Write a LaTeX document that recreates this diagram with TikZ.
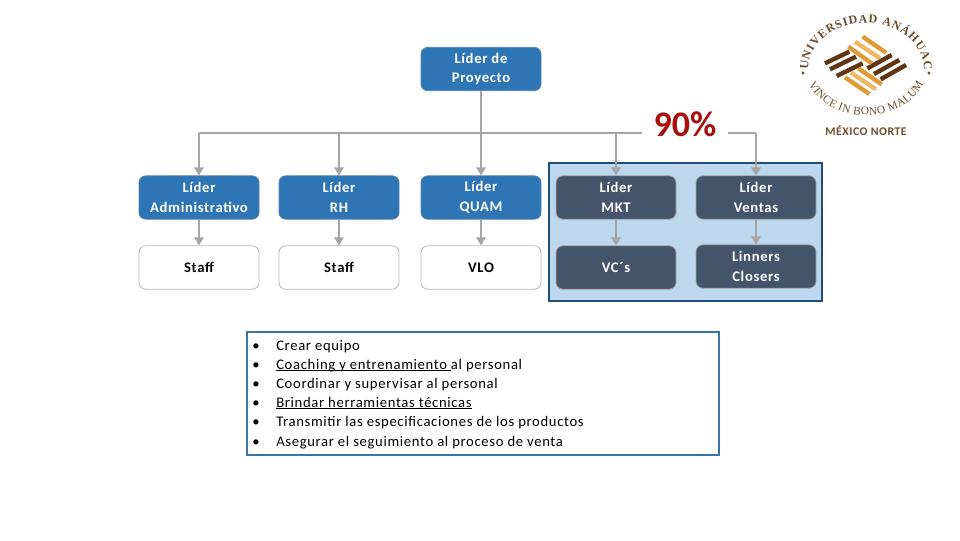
\documentclass[tikz,border=0pt]{standalone}
\usepackage{fontspec}
\setmainfont{Carlito}[LetterSpace=4.5]
\newfontfamily\logoserif{Liberation Serif}
\usetikzlibrary{arrows.meta,decorations.text}
\definecolor{blueb}{HTML}{2E75B6}
\definecolor{slate}{HTML}{44546A}
\definecolor{panelf}{HTML}{BDD7EE}
\definecolor{paneld}{HTML}{1F4E79}
\definecolor{listd}{HTML}{3A75A8}
\definecolor{linec}{HTML}{A5A5A5}
\definecolor{redp}{HTML}{A80F0F}
\definecolor{brownd}{HTML}{5F3512}
\definecolor{orangem}{HTML}{DF9C36}
\definecolor{orangel}{HTML}{EDB964}
\definecolor{brownt}{HTML}{6E4C2A}
\newcommand\ulx[1]{\setbox0\hbox{#1}\rlap{\rule[-1.6pt]{\wd0}{0.7pt}}\box0}
\tikzset{
  boxbase/.style={rounded corners=5pt,minimum width=90pt,minimum height=32.5pt,inner sep=0pt,align=center,font=\fontsize{11}{14.7}\bfseries\selectfont,line width=.6pt},
  bluebox/.style={boxbase,fill=blueb,draw=blueb!70!linec,text=white},
  whitebox/.style={boxbase,fill=white,draw=linec!80,text=black},
  slatebox/.style={boxbase,fill=slate,draw=linec,text=white},
  conn/.style={draw=linec,line width=1.5pt},
  arr/.style={conn,-{Triangle[length=6pt,width=7pt,fill=linec]}},
  listline/.style={anchor=base west,inner sep=0pt,font=\fontsize{11}{12}\selectfont},
}
\begin{document}
\begin{tikzpicture}[x=.75pt,y=-.75pt]
\useasboundingbox (0,0) rectangle (960,540);
\fill[white] (0,0) rectangle (960,540);
\draw[fill=panelf,draw=paneld,line width=1.5pt] (549,163) rectangle (822,301);
\node[bluebox] (top) at (481,69) {Líder de\\Proyecto};
\node[bluebox] (a1) at (199,197.5) {Líder\\Administrativo};
\node[bluebox] (b1) at (339,197.5) {Líder\\RH};
\node[bluebox] (c1) at (481,197.5) {Líder\\QUAM};
\node[slatebox] (d1) at (616,197.5) {Líder\\MKT};
\node[slatebox] (e1) at (756,197.5) {Líder\\Ventas};
\node[whitebox] (a2) at (199,267.5) {Staff};
\node[whitebox] (b2) at (339,267.5) {Staff};
\node[whitebox] (c2) at (481,267.5) {VLO};
\node[slatebox] (d2) at (616,267.5) {VC´s};
\node[slatebox] (e2) at (756,266.5) {Linners\\Closers};
\coordinate (busa) at (199,133);
\coordinate (busb) at (339,133);
\coordinate (busc) at (481,133);
\coordinate (busd) at (616,133);
\coordinate (buse) at (756,133);
\draw[conn] (busa) -- (buse);
\draw[conn] (top.south) -- (busc);
\foreach \p/\q in {busa/a1,busb/b1,busc/c1,busd/d1,buse/e1,a1/a2,b1/b2,c1/c2,d1/d2,e1/e2}
  {\draw[arr] (\p) -- (\q.north);}
\node[fill=white,inner sep=0pt,minimum width=64.5pt,minimum height=30pt,text=redp,font=\fontsize{27}{27}\bfseries\selectfont\addfontfeature{LetterSpace=0}] (pct) at (685,124) {90\%};
\draw[draw=listd,line width=1.9pt,fill=white] (247,332) rectangle (719,455);
\foreach \yy/\txt [count=\i] in {350/{Crear equipo},369/{\ulx{Coaching y entrenamiento\ }al personal},388/{Coordinar y supervisar al personal},407/{\ulx{Brindar herramientas técnicas}},426/{Transmitir las especificaciones de los productos},446/{Asegurar el seguimiento al proceso de venta}}{
  \node[listline] (bul\i) at (252,\yy) {•};
  \node[listline] (li\i) at (276,\yy) {\txt};
}
\begin{scope}[shift={(780,0)},x=.25pt,y=-.25pt]
  \foreach \ax/\ay/\bx/\by in {135/190/208/155,150/208/228/170,170/228/248/190,262/205/335/165,282/222/358/180,302/238/378/195}
    {\draw[brownd,line width=3.3pt] (\ax,\ay) -- (\bx,\by);}
  \foreach \ax/\ay/\bx/\by in {205/140/275/190,248/110/318/158,195/232/268/282,235/205/305/253}
    {\draw[orangem,line width=3.3pt] (\ax,\ay) -- (\bx,\by);}
  \foreach \ax/\ay/\bx/\by in {225/125/300/175,213/218/288/268}
    {\draw[orangel,line width=3.3pt] (\ax,\ay) -- (\bx,\by);}
\end{scope}
\path[decorate,decoration={text along path,text align={fit to path},text={|\logoserif\bfseries\fontsize{9}{9}\selectfont\color{brownt}|UNIVERSIDAD ANÁHUAC}}]
  (866,70) ++(180:58 and 47) arc[start angle=180,end angle=360,x radius=58,y radius=47];
\path[decorate,decoration={text along path,text align={fit to path},text={|\logoserif\fontsize{8.5}{8.5}\selectfont\color{brownt}|VINCE IN BONO MALUM}}]
  (866,68) ++(160:61 and 47) arc[start angle=160,end angle=20,x radius=61,y radius=47];
\fill[brownt] (803,73) circle[radius=1.6];
\fill[brownt] (929,73) circle[radius=1.6];
\node[inner sep=0pt,text=brownt,font=\fontsize{8.8}{9}\bfseries\selectfont] (mx) at (866,130.5) {MÉXICO NORTE};
\end{tikzpicture}
\end{document}
